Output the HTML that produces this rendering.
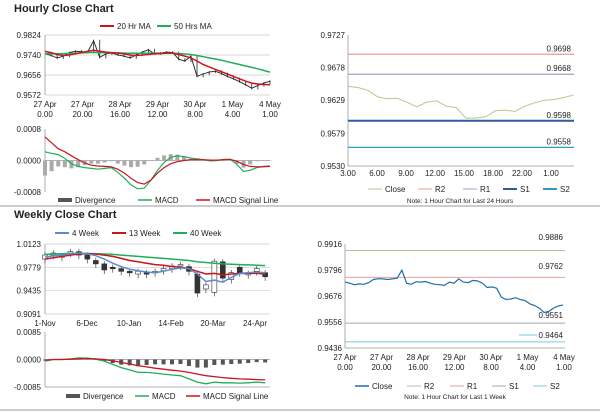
<!DOCTYPE html>
<html><head><meta charset="utf-8"><style>
body{margin:0;background:#fff;width:600px;height:413px;overflow:hidden;font-family:"Liberation Sans",sans-serif}
svg{position:absolute;left:0;top:0}
text{font-family:"Liberation Sans",sans-serif;font-size:8px;fill:#222}
</style></head><body>
<svg id="c" width="600" height="413"></svg>
<script>
// ---- data ----
const hTicks=["0.9824","0.9740","0.9656","0.9572"];
const hXLabels=[["27 Apr","0.00"],["27 Apr","20.00"],["28 Apr","16.00"],["29 Apr","12.00"],["30 Apr","8.00"],["1 May","4.00"],["4 May","1.00"]];
const hClose=[0.9745,0.9738,0.9728,0.9735,0.9750,0.9756,0.9754,0.9752,0.9800,0.9730,0.9745,0.9748,0.9740,0.9735,0.9728,0.9740,0.9752,0.9762,0.9745,0.9748,0.9752,0.9750,0.9722,0.9715,0.9735,0.9650,0.9660,0.9668,0.9672,0.9662,0.9650,0.9640,0.9628,0.9615,0.9600,0.9612,0.9622,0.9630];
const hMA20=[0.9755,0.9750,0.9742,0.9738,0.9740,0.9745,0.9750,0.9755,0.9760,0.9756,0.9752,0.9750,0.9748,0.9745,0.9740,0.9738,0.9740,0.9742,0.9745,0.9746,0.9748,0.9748,0.9742,0.9735,0.9728,0.9715,0.9700,0.9690,0.9680,0.9670,0.9660,0.9650,0.9640,0.9630,0.9622,0.9618,0.9616,0.9615];
const hMA50=[0.9745,0.9746,0.9746,0.9746,0.9747,0.9748,0.9749,0.9750,0.9751,0.9750,0.9750,0.9749,0.9749,0.9748,0.9747,0.9747,0.9747,0.9748,0.9748,0.9748,0.9748,0.9748,0.9746,0.9744,0.9742,0.9738,0.9733,0.9728,0.9723,0.9718,0.9712,0.9706,0.9700,0.9694,0.9688,0.9682,0.9675,0.9668];
const hMacd=[0.00022,0.00018,0.00015,0.00005,-0.00008,-0.00015,-0.00018,-0.00020,-0.00022,-0.00020,-0.00018,-0.00030,-0.00045,-0.00062,-0.00072,-0.00070,-0.00050,-0.00025,-0.00005,0.00008,0.00012,0.00010,0.00006,0.00004,0.00002,-0.00001,0.00000,0.00003,0.00003,-0.00010,-0.00028,-0.00025,-0.00018,-0.00015,-0.00014];
const hSig=[0.00060,0.00045,0.00030,0.00022,0.00012,0.00002,-0.00006,-0.00012,-0.00014,-0.00015,-0.00016,-0.00022,-0.00032,-0.00045,-0.00056,-0.00060,-0.00050,-0.00032,-0.00018,-0.00008,-0.00003,0.00000,0.00002,0.00002,0.00002,0.00001,0.00001,0.00002,0.00003,-0.00002,-0.00010,-0.00015,-0.00016,-0.00016,-0.00015];
const dTicks=["0.0008","0.0000","-0.0008"];

const dTicks2=["0.9727","0.9678","0.9629","0.9579","0.9530"];
const dXLabels=["3.00","6.00","9.00","12.00","15.00","18.00","22.00","1.00"];
const dClose=[0.9650,0.9648,0.9644,0.9634,0.9631,0.9632,0.9626,0.9619,0.9626,0.9628,0.9620,0.9618,0.9602,0.9602,0.9604,0.9613,0.9614,0.9612,0.9620,0.9625,0.9629,0.9630,0.9633,0.9637];
const dLevels=[["R2",0.9698,"#e89a9a"],["R1",0.9668,"#a79bc4"],["S1",0.9598,"#2f5d9a"],["S2",0.9558,"#2a9fc0"]];

const wTicks=["1.0123","0.9779","0.9435","0.9091"];
const wXLabels=["1-Nov","6-Dec","10-Jan","14-Feb","20-Mar","24-Apr"];
const wOpen =[0.9900,0.9960,0.9930,0.9990,1.0010,0.9960,0.9880,0.9830,0.9780,0.9760,0.9720,0.9680,0.9700,0.9700,0.9730,0.9760,0.9800,0.9790,0.9680,0.9460,0.9410,0.9860,0.9600,0.9780,0.9670,0.9720,0.9700];
const wClose=[0.9960,0.9990,0.9950,1.0010,0.9960,0.9900,0.9830,0.9740,0.9760,0.9720,0.9700,0.9720,0.9680,0.9720,0.9760,0.9800,0.9820,0.9720,0.9400,0.9520,0.9870,0.9620,0.9700,0.9700,0.9690,0.9760,0.9640];
const w4 =[0.9930,0.9950,0.9960,0.9980,0.9990,0.9980,0.9950,0.9900,0.9840,0.9790,0.9750,0.9730,0.9710,0.9700,0.9720,0.9750,0.9770,0.9760,0.9680,0.9570,0.9590,0.9560,0.9630,0.9690,0.9700,0.9710,0.9700];
const w13=[0.9900,0.9920,0.9940,0.9960,0.9975,0.9980,0.9975,0.9960,0.9940,0.9910,0.9880,0.9860,0.9840,0.9820,0.9810,0.9790,0.9780,0.9760,0.9720,0.9680,0.9690,0.9670,0.9680,0.9690,0.9690,0.9690,0.9680];
const w40=[0.9970,0.9975,0.9980,0.9985,0.9985,0.9985,0.9980,0.9975,0.9970,0.9960,0.9950,0.9940,0.9930,0.9920,0.9910,0.9900,0.9890,0.9880,0.9860,0.9850,0.9840,0.9830,0.9825,0.9820,0.9815,0.9810,0.9805];
const wMacd=[-0.0005,0.0000,0.0000,0.0002,0.0005,0.0004,0.0001,-0.0005,-0.0015,-0.0025,-0.0032,-0.0040,-0.0040,-0.0042,-0.0045,-0.0048,-0.0050,-0.0060,-0.0070,-0.0075,-0.0070,-0.0072,-0.0072,-0.0073,-0.0072,-0.0070,-0.0072];
const wSig=[-0.0002,0.0000,0.0000,0.0001,0.0002,0.0003,0.0002,0.0000,-0.0004,-0.0009,-0.0014,-0.0019,-0.0023,-0.0027,-0.0030,-0.0033,-0.0036,-0.0040,-0.0045,-0.0050,-0.0053,-0.0056,-0.0058,-0.0060,-0.0061,-0.0062,-0.0063];
const wdTicks=["0.0085","0.0000","-0.0085"];

const bTicks=["0.9916","0.9796","0.9676","0.9556","0.9436"];
const bLevels=[["R2",0.9886,"#c9b79a"],["R1",0.9762,"#e6a0a0"],["S1",0.9551,"#a7a7a7"],["S2",0.9464,"#7cc7dd"]];
const bClose=[0.9740,0.9735,0.9728,0.9732,0.9730,0.9738,0.9752,0.9756,0.9755,0.9752,0.9755,0.9758,0.9795,0.9735,0.9730,0.9742,0.9740,0.9743,0.9735,0.9730,0.9728,0.9725,0.9740,0.9735,0.9755,0.9740,0.9738,0.9748,0.9745,0.9735,0.9715,0.9718,0.9712,0.9670,0.9660,0.9662,0.9668,0.9660,0.9655,0.9640,0.9632,0.9620,0.9600,0.9605,0.9620,0.9630,0.9635];

// ---- helpers ----
const S=document.getElementById('c');const NS='http://www.w3.org/2000/svg';
function el(t,a){const e=document.createElementNS(NS,t);for(const k in a)e.setAttribute(k,a[k]);S.appendChild(e);return e;}
function txt(x,y,s,anchor,name,size,weight){const e=el('text',{x:x,y:y,'text-anchor':anchor||'start'});if(size)e.style.fontSize=size+'px';if(weight)e.style.fontWeight=weight;e.textContent=s;

return e;}
function lin(d0,d1,r0,r1){return v=>r0+(v-d0)/(d1-d0)*(r1-r0);}
function line(xs,ys,arr,col,w,name){const p=arr.map((v,i)=>(i?'L':'M')+xs(i).toFixed(1)+','+ys(v).toFixed(1)).join('');const e=el('path',{d:p,fill:'none',stroke:col,'stroke-width':w});

return e;}
function hl(x1,x2,y,col,w,name){const e=el('line',{x1:x1,x2:x2,y1:y,y2:y,stroke:col,'stroke-width':w||1});

return e;}
function vax(x,y1,y2){const e=el('line',{x1:x,x2:x,y1:y1,y2:y2,stroke:'#999','stroke-width':0.8});

}
function legendItem(x,y,col,label,w,name){hl(x,x+14,y-3,col,w||2,name+'-swatch');txt(x+17,y,label,'start',name);}

hl(0,600,206,'#999',1,'section-divider');hl(0,600,410,'#999',1,'bottom-divider');
txt(14,12,'Hourly Close Chart','start','hourly-title',11,'bold');
txt(14,218,'Weekly Close Chart','start','weekly-title',11,'bold');

// ---- panel 1: hourly ----
{const L=45,R=270,T=35,B=95;const ys=lin(0.9824,0.9572,T,B);const xs=lin(0,hClose.length-1,L,R);
hTicks.forEach(t=>{hl(L,R,ys(+t),'#ccc',0.7,'gridline');txt(L-4,ys(+t)+3,t,'end','y-tick-label');});
vax(L,T,B);
hXLabels.forEach((l,i)=>{const x=L+i*(R-L)/6;txt(x,107,l[0],'middle','x-tick-label');txt(x,117,l[1],'middle','x-tick-label');});
hClose.forEach((v,i)=>{if(i){const b=el('line',{x1:xs(i),x2:xs(i),y1:ys(Math.max(v,hClose[i-1]))-1,y2:ys(Math.min(v,hClose[i-1]))+1,stroke:'#222','stroke-width':0.8});

}});
line(xs,ys,hClose,'#222',0.9,'close-line');
line(xs,ys,hMA50,'#1fae5a',1.5,'ma50-line');line(xs,ys,hMA20,'#c8161d',1.5,'ma20-line');
legendItem(100,29,'#c8161d','20 Hr MA',2,'legend-20hr-ma');legendItem(157,29,'#1fae5a','50 Hrs MA',2,'legend-50hr-ma');
const dy=lin(0.0008,-0.0008,129,192);const dx=lin(0,hMacd.length-1,L,R);
dTicks.forEach(t=>txt(L-4,dy(+t)+3,t,'end','macd-y-tick'));
hl(L,R,dy(0),'#999',0.7,'zero-line');vax(L,129,192);
hMacd.forEach((v,i)=>{const d=v-hSig[i];const y0=dy(0),y1=dy(d);const r=el('rect',{x:dx(i)-2,y:Math.min(y0,y1),width:4,height:Math.abs(y1-y0),fill:'#aaa'});

});
line(dx,dy,hMacd,'#1fae5a',1.2,'macd-line');line(dx,dy,hSig,'#c8161d',1.2,'signal-line');
legendItem(58,203,'#555','Divergence',4,'legend-divergence');legendItem(138,203,'#1fae5a','MACD',1.5,'legend-macd');legendItem(196,203,'#c8161d','MACD Signal Line',1.5,'legend-signal');}

// ---- panel 2: daily pivots ----
{const L=348,R=574,T=35,B=166;const ys=lin(0.9727,0.9530,T,B);const xs=lin(0,dClose.length-1,L,R);
dTicks2.forEach(t=>txt(L-3,ys(+t)+3,t,'end','y-tick-label'));
vax(L,T,B);hl(L,R,B,'#999',0.8,'x-axis-line');
dXLabels.forEach((l,i)=>txt(L+i*29,176,l,'middle','x-tick-label'));
dLevels.forEach(l=>{hl(L,R,ys(l[1]),l[2],l[0]=='S1'?2:1.2,'level-'+l[0].toLowerCase());txt(R-3,ys(l[1])-3,l[1].toFixed(4),'end','level-label-'+l[0].toLowerCase());});
line(xs,ys,dClose,'#b7c98c',1,'close-line');
legendItem(368,192,'#b7c98c','Close',1,'legend-close');legendItem(418,192,'#e89a9a','R2',1,'legend-r2');legendItem(463,192,'#a79bc4','R1',1,'legend-r1');legendItem(503,192,'#2f5d9a','S1',2,'legend-s1');legendItem(543,192,'#2a9fc0','S2',2,'legend-s2');
txt(460,203,'Note: 1 Hour Chart for Last 24 Hours','middle','chart-note',6.5);}

// ---- panel 3: weekly ----
{const L=45,R=270,T=244,B=314;const ys=lin(1.0123,0.9091,T,B);const xs=lin(0,24.8,L,255);
wTicks.forEach(t=>{hl(L,R,ys(+t),'#ccc',0.7,'gridline');txt(L-4,ys(+t)+3,t,'end','y-tick-label');});
vax(L,T,B);
wXLabels.forEach((l,i)=>txt(45+i*42,326,l,'middle','x-tick-label'));
wOpen.forEach((o,i)=>{const c=wClose[i];const x=xs(i);const hi=Math.max(o,c)+0.004,lo=Math.min(o,c)-0.006;
const w=el('line',{x1:x,x2:x,y1:ys(hi),y2:ys(lo),stroke:'#444','stroke-width':0.7});


const r=el('rect',{x:x-2.5,y:ys(Math.max(o,c)),width:5,height:Math.max(1.5,Math.abs(ys(o)-ys(c))),fill:c>=o?'#fff':'#333',stroke:'#333','stroke-width':0.6});

});
line(xs,ys,w40,'#1fae5a',1.5,'w40-line');line(xs,ys,w13,'#c8161d',1.5,'w13-line');line(xs,ys,w4,'#5b8bd0',1.5,'w4-line');
legendItem(55,236,'#5b8bd0','4 Week',2,'legend-4week');legendItem(112,236,'#c8161d','13 Week',2,'legend-13week');legendItem(173,236,'#1fae5a','40 Week',2,'legend-40week');
const dy=lin(0.0085,-0.0085,332,387);
wdTicks.forEach(t=>txt(L-4,dy(+t)+3,t,'end','macd-y-tick'));
hl(L,R,dy(0),'#999',0.7,'zero-line');vax(L,332,387);hl(L,R,387,'#999',0.7,'macd-x-axis');
wMacd.forEach((v,i)=>{const d=v-wSig[i];const y0=dy(0),y1=dy(d);const r=el('rect',{x:xs(i)-2,y:Math.min(y0,y1),width:4,height:Math.abs(y1-y0),fill:'#555'});

});
line(xs,dy,wMacd,'#1fae5a',1.3,'macd-line');line(xs,dy,wSig,'#c8161d',1.3,'signal-line');
legendItem(66,399,'#555','Divergence',4,'legend-divergence');legendItem(135,399,'#1fae5a','MACD',1.5,'legend-macd');legendItem(186,399,'#c8161d','MACD Signal Line',1.5,'legend-signal');}

// ---- panel 4: weekly hourly pivots ----
{const L=345,R=565,T=244,B=348;const ys=lin(0.9916,0.9436,T,B);const xs=lin(0,bClose.length-1,L,563);
bTicks.forEach(t=>txt(L-3,ys(+t)+3,t,'end','y-tick-label'));
vax(L,T,B);hl(L,R,B,'#999',0.8,'x-axis-line');
hXLabels.forEach((l,i)=>{const x=L+i*36.5;txt(x,360,l[0],'middle','x-tick-label');txt(x,370,l[1],'middle','x-tick-label');});
bLevels.forEach(l=>{hl(L,R,ys(l[1]),l[2],1,'level-'+l[0].toLowerCase());});
txt(563,240,'0.9886','end','level-label-r2');txt(563,269,'0.9762','end','level-label-r1');txt(563,318,'0.9551','end','level-label-s1');
hl(519,537,335,'#7cc7dd',1,'s2-label-marker');txt(563,338,'0.9464','end','level-label-s2');
line(xs,ys,bClose,'#1f6fa8',1.2,'close-line');
legendItem(355,389,'#1f6fa8','Close',1.5,'legend-close');legendItem(407,389,'#c9b79a','R2',1,'legend-r2');legendItem(450,389,'#e6a0a0','R1',1,'legend-r1');legendItem(492,389,'#a7a7a7','S1',1,'legend-s1');legendItem(533,389,'#7cc7dd','S2',1,'legend-s2');
txt(455,399,'Note: 1 Hour Chart for Last 1 Week','middle','chart-note',6.5);}
</script>
</body></html>
